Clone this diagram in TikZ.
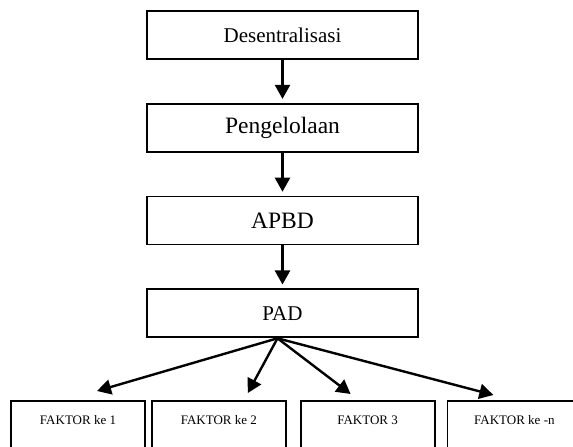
\documentclass[tikz,border=0pt]{standalone}
\usepackage{fontspec}
\setmainfont{Liberation Serif}
\usetikzlibrary{arrows.meta,positioning}

\begin{document}
\begin{tikzpicture}[x=1pt,y=1pt,>={Triangle[length=14pt,width=15pt]},
node distance=43pt,
tahap/.style={rectangle,draw,line width=1.8pt,inner sep=0pt,minimum width=271pt,minimum height=48pt,font=\fontsize{21}{24}\selectfont},
faktor/.style={rectangle,draw,line width=1.8pt,inner xsep=0pt,inner ysep=14pt,minimum width=134pt,text height=10pt,text depth=40pt,font=\fontsize{13}{15}\selectfont},
paths/.style={->, line width=2.4pt}
]

\useasboundingbox (0,0) rectangle (573,447);
\clip (0,0) rectangle (573,447);

%% Nodes   %%%%%%%%%%%%%%%%%%%%%%%%%%%%%%%%%%%%%%%%%%%%%%%%%%%%%%%%%%%%%%%%%%%

%% Alur utama
\node [tahap] (DES) at (282.5,412)  {Desentralisasi};
\node [tahap,font=\fontsize{23.5}{26}\selectfont] (PGL) [below =of DES]  {Pengelolaan};
\node [tahap,font=\fontsize{23.5}{26}\selectfont] (APBD) [below =of PGL] {APBD};
\node [tahap] (PAD) [below =of APBD] {PAD};

%% Faktor
\node [faktor,anchor=north] (F1) at (78,47)  {FAKTOR ke 1};
\node [faktor] (F2) [right =5pt of F1]   {FAKTOR ke 2};
\node [faktor] (F3) [right =13pt of F2]  {FAKTOR 3};
\node [faktor] (F4) [right =11pt of F3]  {FAKTOR ke -n};


%% Pfade %%%%%%%%%%%%%%%%%%%%%%%%%%%%%%%%%%%%%%%%%%%%%%%%%%%%%%%%%%%%%%%%%%%%%%%

%% Alur utama
\draw [paths, shorten >=4pt] (DES) to (PGL);
\draw [paths, shorten >=4pt] (PGL) to (APBD);
\draw [paths, shorten >=4pt] (APBD) to (PAD);

%% PAD ke faktor
\draw [paths] ([xshift=-5pt]PAD.south) to ([xshift=19pt,yshift=9pt]F1.north);
\draw [paths] ([xshift=-5pt]PAD.south) to ([xshift=29pt,yshift=7pt]F2.north);
\draw [paths] ([xshift=-5pt]PAD.south) to ([xshift=-17pt,yshift=6pt]F3.north);
\draw [paths] ([xshift=-5pt]PAD.south) to ([xshift=-21pt,yshift=5pt]F4.north);

\end{tikzpicture}
\end{document}
